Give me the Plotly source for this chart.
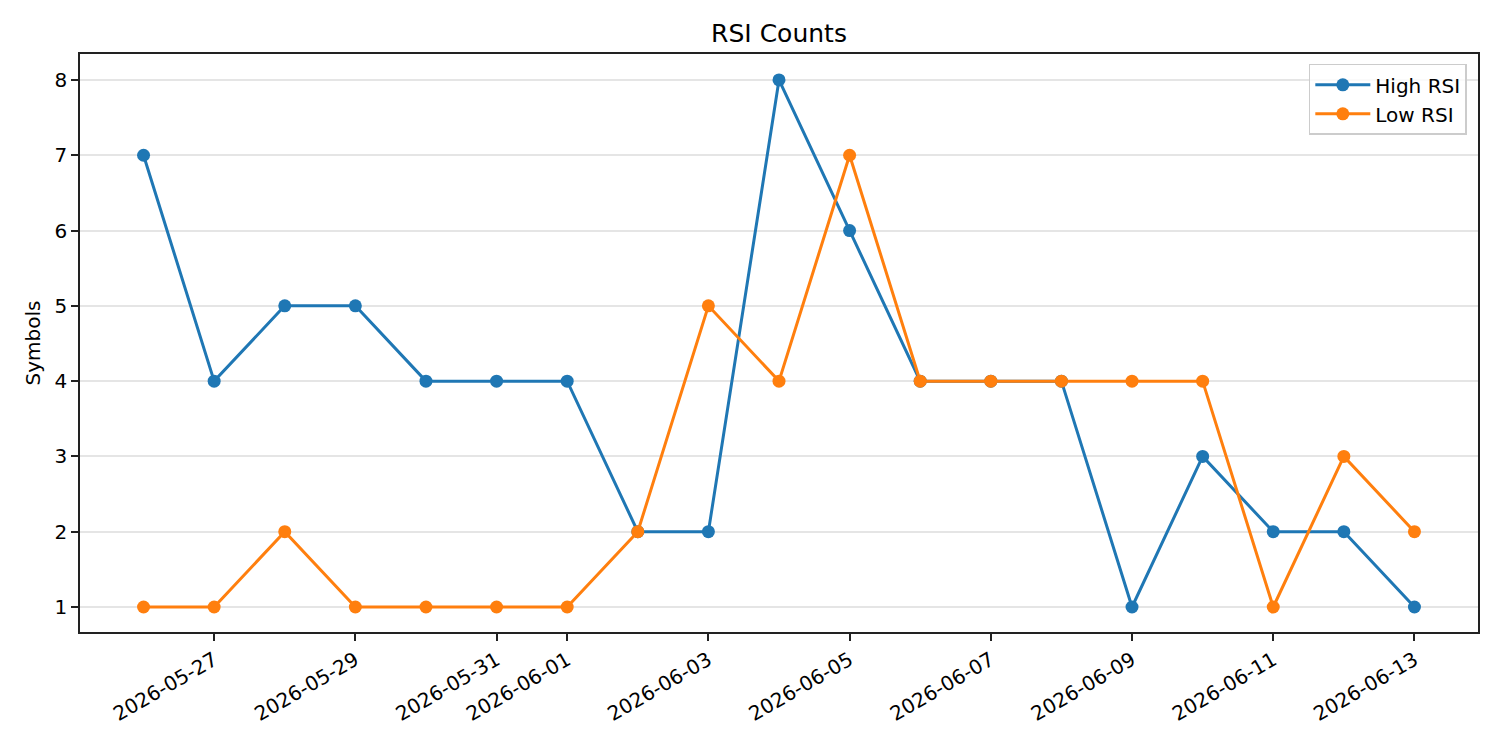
import pandas as pd
import plotly.graph_objects as go

dates = pd.date_range("2026-05-26", "2026-06-13", freq="D")
high_rsi = [7, 4, 5, 5, 4, 4, 4, 2, 2, 8, 6, 4, 4, 4, 1, 3, 2, 2, 1]
low_rsi = [1, 1, 2, 1, 1, 1, 1, 2, 5, 4, 7, 4, 4, 4, 4, 4, 1, 3, 2]
tick_dates = pd.to_datetime([
    "2026-05-27", "2026-05-29", "2026-05-31", "2026-06-01", "2026-06-03",
    "2026-06-05", "2026-06-07", "2026-06-09", "2026-06-11", "2026-06-13",
])

span = dates[-1] - dates[0]
x_range = [dates[0] - span * 0.05, dates[-1] + span * 0.05]

fig = go.Figure()
for name, vals, color in [("High RSI", high_rsi, "#1f77b4"), ("Low RSI", low_rsi, "#ff7f0e")]:
    fig.add_trace(go.Scatter(
        x=dates, y=vals, name=name, mode="lines+markers",
        line=dict(color=color, width=3), marker=dict(color=color, size=13),
    ))

font = "DejaVu Sans"
fig.update_layout(
    width=1500, height=750,
    margin=dict(l=80, r=22, t=54, b=118),
    paper_bgcolor="white", plot_bgcolor="white",
    font=dict(family=font, size=20, color="black"),
    title=dict(text="RSI Counts", x=(80 + 1478) / 2 / 1500, xanchor="center",
               y=1 - 33 / 750, yanchor="middle", font=dict(size=25)),
    legend=dict(x=0.992, y=0.983, xanchor="right", yanchor="top",
                bgcolor="rgba(255,255,255,0.8)", bordercolor="#cccccc", borderwidth=1.5,
                font=dict(size=20), itemwidth=55),
    showlegend=True,
)
fig.update_xaxes(
    range=x_range, tickvals=tick_dates, tickformat="%Y-%m-%d", tickangle=-30,
    showgrid=False, showline=True, linecolor="#222222", linewidth=1.7, mirror=True,
    ticks="outside", ticklen=7, tickwidth=1.7, tickcolor="#222222", zeroline=False,
)
fig.update_yaxes(
    range=[0.668, 8.345], tickvals=list(range(1, 9)),
    showgrid=True, gridcolor="#e5e5e5", gridwidth=1.5,
    showline=True, linecolor="#222222", linewidth=1.7, mirror=True,
    ticks="outside", ticklen=7, tickwidth=1.7, tickcolor="#222222", zeroline=False,
    title=dict(text="Symbols", font=dict(size=20), standoff=8),
)
fig.write_html("out.html")
